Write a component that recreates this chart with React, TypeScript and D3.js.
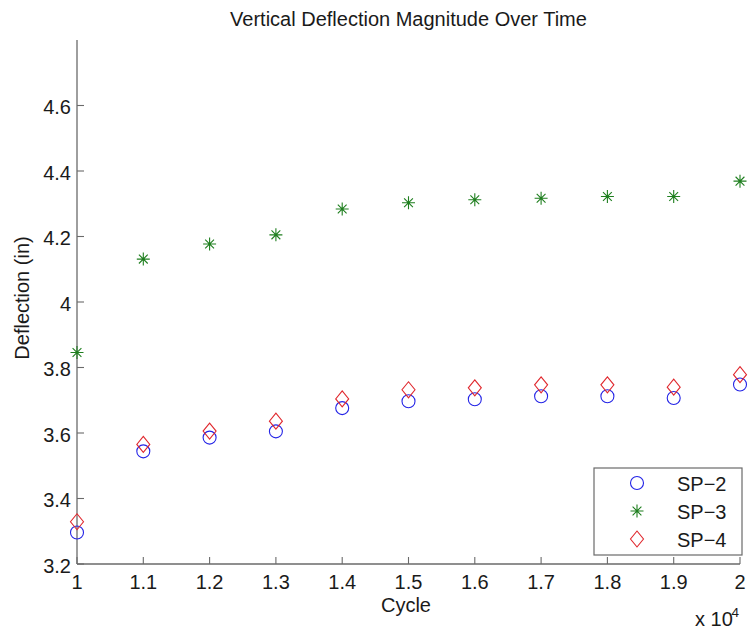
import React from "react";
import * as d3 from "d3";

// Cycle count, in units of 10^4
const cycles = [1.0, 1.1, 1.2, 1.3, 1.4, 1.5, 1.6, 1.7, 1.8, 1.9, 2.0];

// Vertical deflection magnitude (in) for each specimen
const sp2 = [3.296, 3.544, 3.586, 3.605, 3.676, 3.697, 3.703, 3.712, 3.712, 3.707, 3.748];
const sp3 = [3.846, 4.131, 4.177, 4.205, 4.284, 4.303, 4.312, 4.317, 4.322, 4.322, 4.369];
const sp4 = [3.329, 3.565, 3.606, 3.636, 3.704, 3.732, 3.738, 3.747, 3.747, 3.740, 3.778];

const seriesNames = ["SP-2", "SP-3", "SP-4"];
const xTicks = [1, 1.1, 1.2, 1.3, 1.4, 1.5, 1.6, 1.7, 1.8, 1.9, 2];
const yTicks = [3.2, 3.4, 3.6, 3.8, 4.0, 4.2, 4.4, 4.6];

const W = 748;
const H = 631;
const left = 77;
const right = 740;
const top = 40;
const bottom = 564;

const FONT = "'Liberation Sans', Arial, Helvetica, sans-serif";
const AXIS = "#6a6a6a";
const TEXT = "#1a1a1a";
const BLUE = "#2323e6";
const GREEN = "#1f7f1f";
const RED = "#e0282e";

type Kind = "circle" | "star" | "diamond";

function Marker({ kind, x, y }: { kind: Kind; x: number; y: number }) {
  if (kind === "circle") {
    return <circle cx={x} cy={y} r={6.5} fill="none" stroke={BLUE} strokeWidth={1.1} />;
  }
  if (kind === "diamond") {
    const hw = 6.5;
    const hh = 8;
    return (
      <path
        d={`M${x},${y - hh}L${x + hw},${y}L${x},${y + hh}L${x - hw},${y}Z`}
        fill="none"
        stroke={RED}
        strokeWidth={1.1}
      />
    );
  }
  const a = 6.5;
  const b = 4.4;
  return (
    <path
      d={`M${x - a},${y}H${x + a}M${x},${y - a}V${y + a}M${x - b},${y - b}L${x + b},${y + b}M${x - b},${y + b}L${x + b},${y - b}`}
      fill="none"
      stroke={GREEN}
      strokeWidth={1.1}
    />
  );
}

export default function App() {
  const x = d3.scaleLinear().domain([1, 2]).range([left, right]);
  const y = d3.scaleLinear().domain([3.2, 4.8]).range([bottom, top]);

  const series: { name: string; kind: Kind; values: number[] }[] = [
    { name: seriesNames[0], kind: "circle", values: sp2 },
    { name: seriesNames[1], kind: "star", values: sp3 },
    { name: seriesNames[2], kind: "diamond", values: sp4 },
  ];

  const fmt = (v: number) => d3.format("~g")(+v.toFixed(1));

  const legend = { x0: 594, y0: 468, x1: 742, y1: 555 };
  const legendRows = [483, 511, 539];

  return (
    <svg
      width={W}
      height={H}
      style={{ position: "absolute", left: 0, top: 0, background: "#fff" }}
      fontFamily={FONT}
    >
      <rect x={0} y={0} width={W} height={H} fill="#fff" />

      {/* title */}
      <text x={(left + right) / 2} y={26} textAnchor="middle" fontSize={20} fill={TEXT}>
        Vertical Deflection Magnitude Over Time
      </text>

      {/* axes */}
      <line x1={left} y1={bottom} x2={right} y2={bottom} stroke={AXIS} strokeWidth={1.3} />
      <line x1={left} y1={bottom} x2={left} y2={top} stroke={AXIS} strokeWidth={1.3} />

      {xTicks.map((t) => (
        <g key={`x${t}`}>
          <line x1={x(t)} x2={x(t)} y1={bottom} y2={bottom - 7} stroke={AXIS} strokeWidth={1.1} />
          <text x={x(t)} y={bottom + 25} textAnchor="middle" fontSize={20} fill={TEXT}>
            {fmt(t)}
          </text>
        </g>
      ))}

      {yTicks.map((t) => (
        <g key={`y${t}`}>
          <line x1={left} x2={left + 7} y1={y(t)} y2={y(t)} stroke={AXIS} strokeWidth={1.1} />
          <text x={71} y={y(t) + 8.5} textAnchor="end" fontSize={20} fill={TEXT}>
            {fmt(t)}
          </text>
        </g>
      ))}

      {/* axis labels */}
      <text x={406} y={612} textAnchor="middle" fontSize={20} fill={TEXT}>
        Cycle
      </text>
      <text
        transform={`translate(28.5,${(top + bottom) / 2 - 4}) rotate(-90)`}
        textAnchor="middle"
        fontSize={20}
        fill={TEXT}
      >
        Deflection (in)
      </text>
      <text x={695} y={626} fontSize={20} fill={TEXT}>
        x 10
      </text>
      <text x={731.5} y={617} fontSize={13.5} fill={TEXT}>
        4
      </text>

      {/* data points */}
      {series.map((s) => (
        <g key={s.name}>
          {s.values.map((v, i) => (
            <Marker key={i} kind={s.kind} x={x(cycles[i])} y={y(v)} />
          ))}
        </g>
      ))}

      {/* legend */}
      <rect
        x={legend.x0}
        y={legend.y0}
        width={legend.x1 - legend.x0}
        height={legend.y1 - legend.y0}
        fill="#fff"
        stroke={AXIS}
        strokeWidth={1.2}
      />
      {series.map((s, i) => (
        <g key={`lg${s.name}`}>
          <Marker kind={s.kind} x={637} y={legendRows[i]} />
          <text x={677} y={legendRows[i] + 7.5} fontSize={20} fill={TEXT}>
            {s.name.replace("-", "\u2212")}
          </text>
        </g>
      ))}
    </svg>
  );
}
